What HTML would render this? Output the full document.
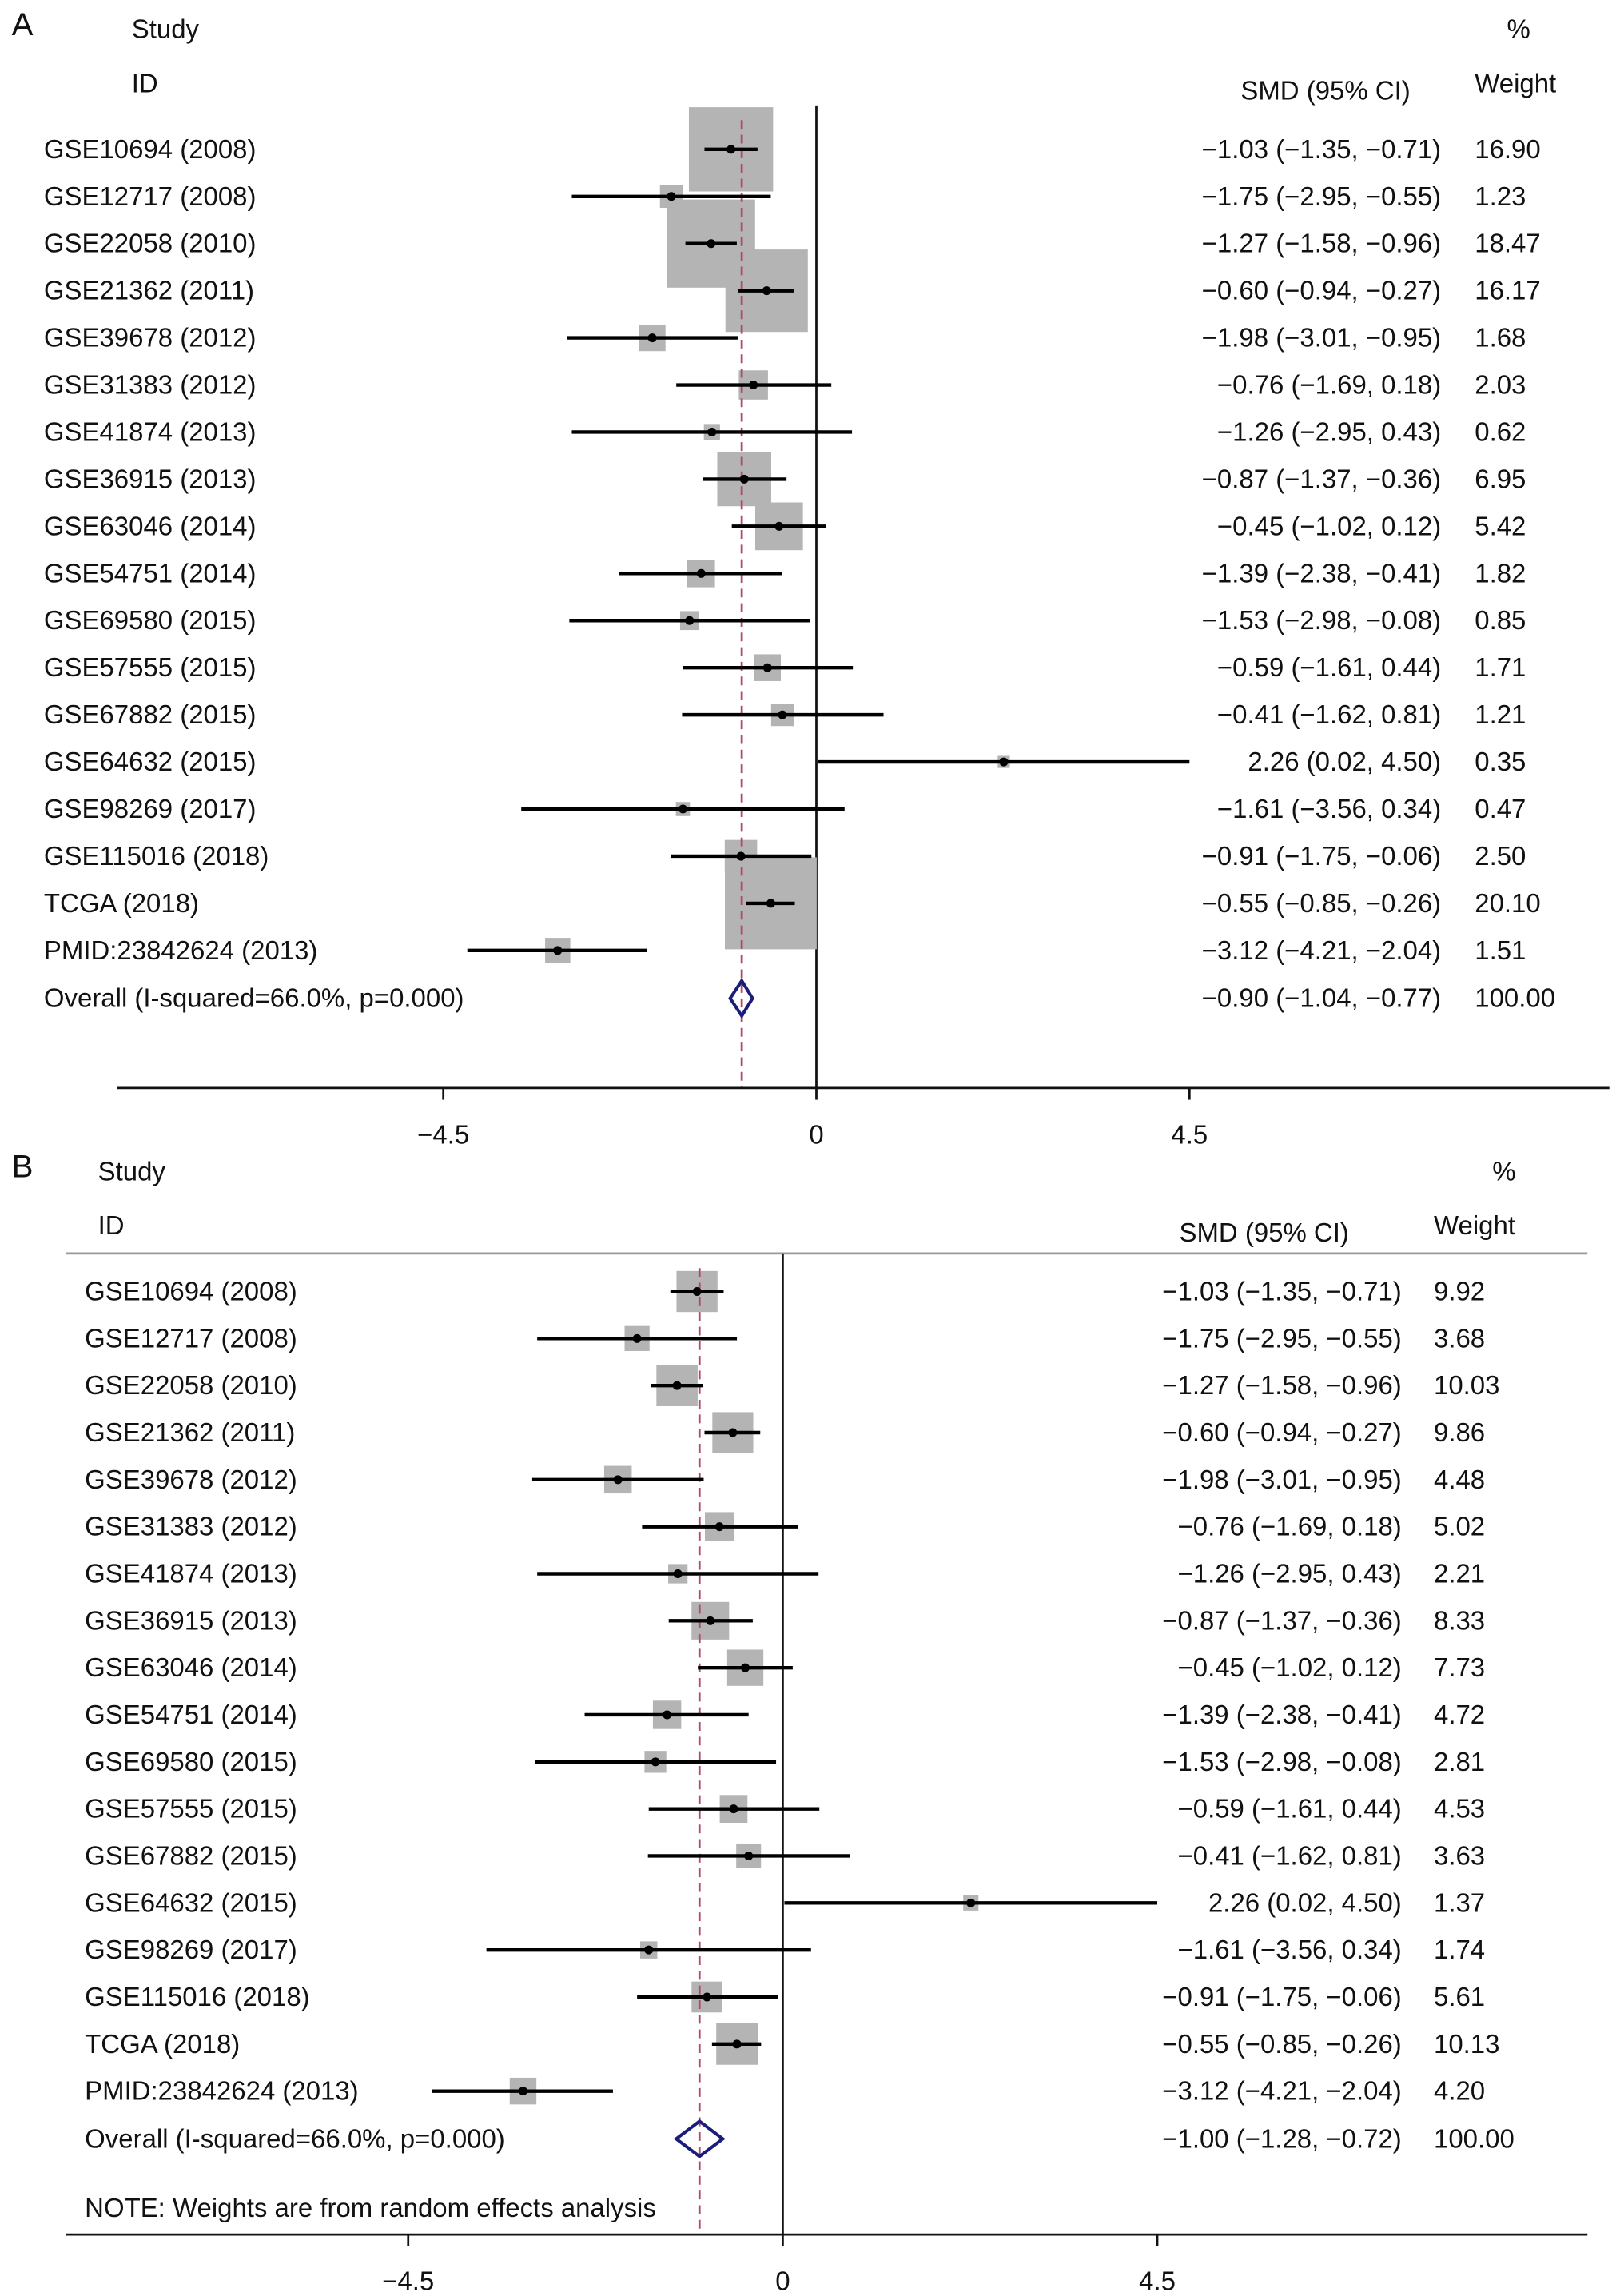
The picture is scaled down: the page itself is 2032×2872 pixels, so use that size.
<!DOCTYPE html>
<html><head><meta charset="utf-8">
<style>
html,body{margin:0;padding:0;background:#fff;}
svg{display:block;}
text{font-family:"Liberation Sans",sans-serif;fill:#111;}
</style></head>
<body>
<svg id="chart" width="2032" height="2872" viewBox="0 0 1110 1568" preserveAspectRatio="none" xmlns="http://www.w3.org/2000/svg">
</svg>
<script>
const studies = ["GSE10694 (2008)","GSE12717 (2008)","GSE22058 (2010)","GSE21362 (2011)","GSE39678 (2012)","GSE31383 (2012)","GSE41874 (2013)","GSE36915 (2013)","GSE63046 (2014)","GSE54751 (2014)","GSE69580 (2015)","GSE57555 (2015)","GSE67882 (2015)","GSE64632 (2015)","GSE98269 (2017)","GSE115016 (2018)","TCGA (2018)","PMID:23842624 (2013)"];
const smd = [-1.03,-1.75,-1.27,-0.60,-1.98,-0.76,-1.26,-0.87,-0.45,-1.39,-1.53,-0.59,-0.41,2.26,-1.61,-0.91,-0.55,-3.12];
const lower = [-1.35,-2.95,-1.58,-0.94,-3.01,-1.69,-2.95,-1.37,-1.02,-2.38,-2.98,-1.61,-1.62,0.02,-3.56,-1.75,-0.85,-4.21];
const upper = [-0.71,-0.55,-0.96,-0.27,-0.95,0.18,0.43,-0.36,0.12,-0.41,-0.08,0.44,0.81,4.50,0.34,-0.06,-0.26,-2.04];
const weightsA = [16.90,1.23,18.47,16.17,1.68,2.03,0.62,6.95,5.42,1.82,0.85,1.71,1.21,0.35,0.47,2.50,20.10,1.51];
const weightsB = [9.92,3.68,10.03,9.86,4.48,5.02,2.21,8.33,7.73,4.72,2.81,4.53,3.63,1.37,1.74,5.61,10.13,4.20];
const overallA = [-0.90,-1.04,-0.77];
const overallB = [-1.00,-1.28,-0.72];
const ticks = [-4.5,0,4.5];

const NS="http://www.w3.org/2000/svg";
const svg=document.getElementById('chart');
function el(tag,attrs,parent){const e=document.createElementNS(NS,tag);for(const k in attrs)e.setAttribute(k,attrs[k]);(parent||svg).appendChild(e);return e;}
function txt(x,y,s,anchor,g,size){const t=el('text',{x:x,y:y,'font-size':size||18,'text-anchor':anchor||'start'},g);t.textContent=s;return t;}
function f2(v){return (v<0?'\u2212':'')+Math.abs(v).toFixed(2);}
function ciText(i,ov){const a=ov||[smd[i],lower[i],upper[i]];return f2(a[0])+' ('+f2(a[1])+', '+f2(a[2])+')';}

function panel(cfg){
  const g=el('g',{});
  
  
  const X=v=>cfg.x0+v*cfg.unit;
  const Y=i=>cfg.row0+i*cfg.step;
  let t=txt(cfg.letterX,cfg.headY-2,cfg.letter,'start',g,22);
  
  t=txt(cfg.labelX+cfg.headOff,cfg.headY,'Study','start',g);
  
  t=txt(cfg.labelX+cfg.headOff,cfg.headY+37,'ID','start',g);
  
  t=txt(cfg.pctX,cfg.headY,'%','start',g);
  
  t=txt(cfg.wX,cfg.headY+37,'Weight','start',g);
  
  t=txt(cfg.smdHX,cfg.headY+42,'SMD (95% CI)','start',g);
  
  if(cfg.sepY){let l=el('line',{x1:cfg.axL,x2:cfg.axR,y1:cfg.sepY,y2:cfg.sepY,stroke:'#999','stroke-width':1.5},g);
    }
  let z=el('line',{x1:X(0),x2:X(0),y1:cfg.topY,y2:cfg.axY,stroke:'#111','stroke-width':1.5},g);
  
  studies.forEach((s,i)=>{
    const side=cfg.k*Math.sqrt(cfg.w[i]);
    const b=el('rect',{x:X(smd[i])-side/2,y:Y(i)-side/2,width:side,height:side,fill:'#b4b4b4'},g);
    
  });
  let d=el('line',{x1:X(cfg.ov[0]),x2:X(cfg.ov[0]),y1:cfg.topY+10,y2:cfg.axY,stroke:'#b04a6a','stroke-width':1.5,'stroke-dasharray':'6,4'},g);
  
  studies.forEach((s,i)=>{
    const y=Y(i);
    const l=el('line',{x1:X(lower[i]),x2:X(upper[i]),y1:y,y2:y,stroke:'#000','stroke-width':2.4},g);
    
    const c=el('circle',{cx:X(smd[i]),cy:y,r:3,fill:'#000'},g);
    
    let a=txt(cfg.labelX,y+6,s,'start',g);
    
    a=txt(cfg.smdR,y+6,ciText(i),'end',g);
    
    a=txt(cfg.wX,y+6,cfg.w[i].toFixed(2),'start',g);
    
  });
  const oy=Y(18)+0.5;
  const dm=el('polygon',{points:`${X(cfg.ov[1])},${oy} ${X(cfg.ov[0])},${oy-12} ${X(cfg.ov[2])},${oy} ${X(cfg.ov[0])},${oy+12}`,fill:'none',stroke:'#1c1c7a','stroke-width':2.2},g);
  
  let a=txt(cfg.labelX,oy+6,'Overall (I-squared=66.0%, p=0.000)','start',g);
  
  a=txt(cfg.smdR,oy+(cfg.ovTxtDy||6),ciText(0,cfg.ov),'end',g);
  
  a=txt(cfg.wX,oy+(cfg.ovTxtDy||6),'100.00','start',g);
  
  if(cfg.note){a=txt(cfg.labelX,cfg.note,'NOTE: Weights are from random effects analysis','start',g);
    }
  const ax=el('line',{x1:cfg.axL,x2:cfg.axR,y1:cfg.axY,y2:cfg.axY,stroke:'#111','stroke-width':1.5},g);
  
  ticks.forEach(tv=>{
    const tk=el('line',{x1:X(tv),x2:X(tv),y1:cfg.axY,y2:cfg.axY+8,stroke:'#111','stroke-width':1.5},g);
    
    const tl=txt(X(tv),cfg.axY+38,tv===0?'0':f2(tv).replace('4.50','4.5'),'middle',g);
    
  });
}
panel({name:'panel-a',letter:'A',letterX:8,headY:26,headOff:60,labelX:30,pctX:1030,wX:1008,smdHX:848,smdR:985,
  x0:558,unit:255/4.5,row0:102,step:32.18,topY:72,axY:743,axL:80,axR:1100,k:14,w:weightsA,ov:overallA});
panel({name:'panel-b',letter:'B',letterX:8,headY:806,headOff:9,labelX:58,pctX:1020,wX:980,smdHX:806,smdR:958,
  x0:535,unit:256/4.5,row0:882,step:32.12,topY:856,sepY:856,axY:1526,axL:45,axR:1085,k:8.9,w:weightsB,ov:overallB,ovTxtDy:0,note:1514});
</script>
</body></html>
